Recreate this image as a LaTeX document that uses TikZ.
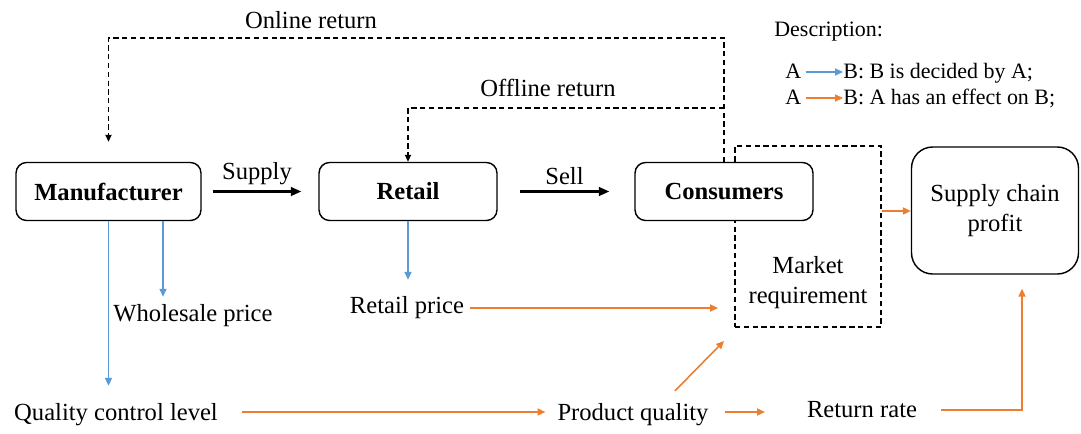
\documentclass[tikz,border=0pt]{standalone}
\usepackage{fontspec}
\setmainfont{Liberation Serif}
\usetikzlibrary{arrows.meta,positioning}

\definecolor{decideblue}{RGB}{91,155,213}
\definecolor{effectorange}{RGB}{237,125,49}

\begin{document}
\begin{tikzpicture}[
    x=0.02cm, y=-0.02cm,
    font=\fontsize{14}{17}\selectfont,
    player/.style={draw, line width=0.8pt, rounded corners=6pt, fill=white, font=\fontsize{14}{17}\selectfont\bfseries, minimum height=1.16cm},
    goal/.style={draw, line width=0.8pt, rounded corners=12pt, fill=white, align=center, minimum width=3.34cm, minimum height=2.54cm},
    label/.style={inner sep=1pt},
    legend/.style={inner sep=0pt, anchor=base west, font=\fontsize{12.5}{15}\selectfont},
    flow/.style={-{Triangle[length=6pt,width=5pt]}, line width=1.2pt},
    retpath/.style={-{Triangle[length=4pt,width=3.5pt]}, line width=0.7pt, dash pattern=on 3pt off 2pt},
    decide/.style={-{Triangle[length=4.5pt,width=4pt]}, line width=0.8pt, decideblue},
    effect/.style={-{Triangle[length=4.5pt,width=4pt]}, line width=0.9pt, effectorange}
]
    \useasboundingbox (0,0) rectangle (1081,433);

    % Market requirement area (behind consumers)
    \node[draw, line width=0.7pt, dash pattern=on 3pt off 2pt, minimum width=2.92cm, minimum height=3.62cm] (mkt) at (808,236.5) {};
    \node[label, align=center] (mkttext) at (808,283) {Market\\requirement};

    % Players
    \node[player, minimum width=3.7cm] (manu) at (108.5,191.5) {Manufacturer};
    \node[player, minimum width=3.56cm] (retail) at (408,191.5) {Retail};
    \node[player, minimum width=3.56cm] (cons) at (724,191.5) {Consumers};
    \node[goal] (profit) at (995,210.5) {Supply chain\\profit};

    % Decisions and factors
    \node[label] (wsp) at (193,316) {Wholesale price};
    \node[label] (rtp) at (407,308) {Retail price};
    \node[label, anchor=base] (qcl) at (116,420) {Quality control level};
    \node[label, anchor=base] (pq) at (633,420) {Product quality};
    \node[label, anchor=base] (rr) at (862,417) {Return rate};

    % Supply and sell
    \draw[flow] (manu.east) ++(11,0) coordinate (s1) -- ([xshift=-0.34cm]retail.west) node[midway, above=2pt, label] {Supply};
    \draw[flow] (retail.east) ++(22,0) coordinate (s2) -- ([xshift=-0.5cm]cons.west) node[midway, above=2pt, label] {Sell};

    % Returns
    \coordinate (online) at (724,38);
    \coordinate (offline) at (724,108);
    \draw[retpath] (cons.north) -- (online) -- (online -| manu.north) -- ([yshift=0.4cm]manu.north);
    \node[label] (onlinelab) at (311,20) {Online return};
    \draw[retpath] (offline) -- (offline -| retail.north) -- (retail.north);
    \node[label] (offlinelab) at (548,88) {Offline return};

    % Decided by
    \draw[decide] (manu.south) -- ([yshift=0.3cm]qcl.north -| manu.south);
    \draw[decide] (manu.south -| 163,0) -- ([yshift=0.12cm]wsp.north -| 163,0);
    \draw[decide] (retail.south) -- ([yshift=0.3cm]rtp.north -| retail.south);

    % Effects
    \coordinate (lowrow) at (0,412);
    \draw[effect] (rtp.east) ++(4,0) coordinate (r1) -- (718,308);
    \draw[effect] (qcl.east |- lowrow) ++(22,0) -- ([xshift=-0.2cm]pq.west |- lowrow);
    \draw[effect] (pq.east |- lowrow) ++(14,0) -- ([xshift=-0.8cm]rr.west |- lowrow);
    \draw[effect] (pq.north) ++(42,-10) coordinate (p1) -- (724,341);
    \draw[effect] (rr.east |- 0,410) ++(22,0) coordinate (e1) -- (e1 -| 1022,0) -- ([yshift=-0.28cm]profit.south -| 1022,0);
    \draw[effect] (mkt.east |- 0,211) -- (profit.west |- 0,211);

    % Description
    \node[legend] (desc) at (774,36) {Description:};
    \node[legend] (a1) at (785,78) {A};
    \node[legend] (b1) at (843,78) {B: B is decided by A;};
    \node[legend] (a2) at (785,104) {A};
    \node[legend] (b2) at (843,104) {B: A has an effect on B;};
    \draw[decide, line width=0.7pt] (a1.east |- 0,72) ++(4,0) -- (b1.west |- 0,72);
    \draw[effect, line width=0.8pt] (a2.east |- 0,98) ++(4,0) -- (b2.west |- 0,98);
\end{tikzpicture}
\end{document}
